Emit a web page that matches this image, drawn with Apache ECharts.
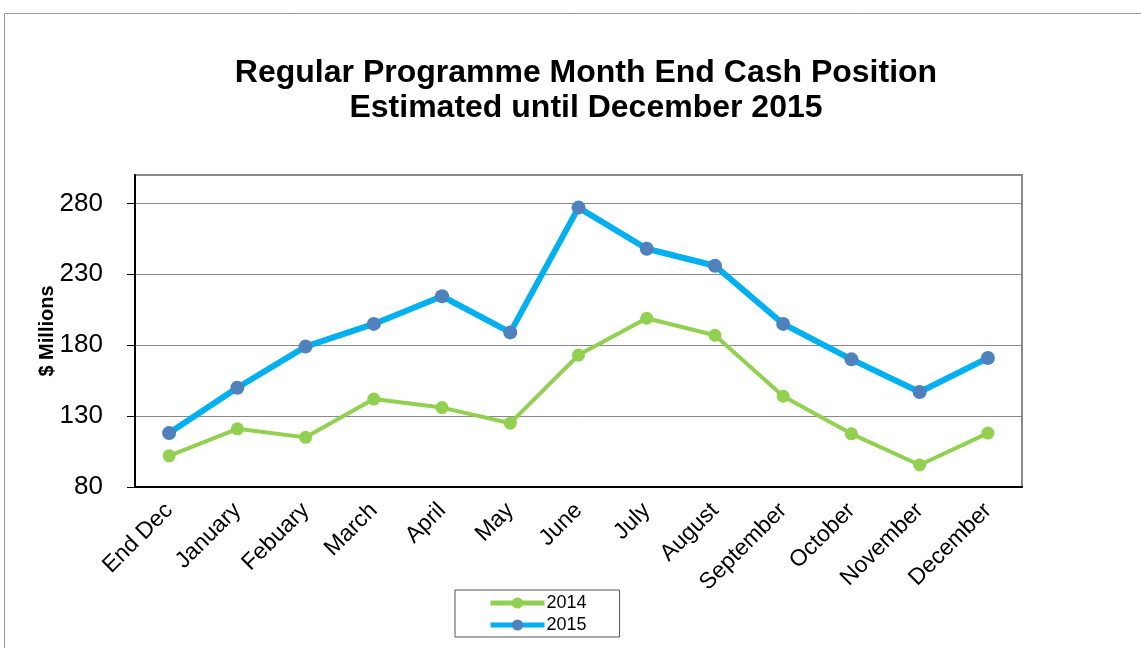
<!DOCTYPE html>
<html>
<head>
    <meta charset="utf-8"/>
    <title>Regular Programme Month End Cash Position</title>
    <style type="text/css">
        html, body { margin: 0; padding: 0; background: #fff; }
        #main { width: 1141px; height: 648px; }
    </style>
    <script type="text/javascript" src="https://cdn.jsdelivr.net/npm/echarts@6/dist/echarts.min.js"></script>
</head>
<body>
<div id="main"></div>
<script type="text/javascript">
    // 月份
    var months = ['End Dec', 'January', 'Febuary', 'March', 'April', 'May', 'June',
        'July', 'August', 'September', 'October', 'November', 'December'];
    // 两年的月末现金
    var cash2014 = [102, 121, 115, 142, 136, 125, 173, 199, 187, 144, 117.5, 95.5, 118];
    var cash2015 = [118, 150, 179, 195, 214.5, 189, 277, 248, 236, 195, 170, 147, 171];
    var yMin = 80, yMax = 300, yStep = 50;

    var myChart = echarts.init(document.getElementById('main'));

    var option = {
        backgroundColor: '#fff',
        animation: false,
        textStyle: { fontFamily: 'Liberation Sans, Arial, sans-serif' },
        title: {
            text: 'Regular Programme Month End Cash Position\nEstimated until December 2015',
            left: 581,
            textAlign: 'center',
            top: 51,
            textStyle: {
                fontSize: 32,
                fontWeight: 'bold',
                color: '#000',
                lineHeight: 35
            }
        },
        // 外框
        graphic: [{
            type: 'rect',
            shape: { x: 4.5, y: 13.5, width: 1150, height: 650 },
            style: { fill: 'none', stroke: '#999', lineWidth: 1 }
        }],
        legend: {
            orient: 'vertical',
            left: 455,
            top: 590,
            padding: [4, 33, 3, 33],
            itemGap: 4,
            itemWidth: 54,
            itemHeight: 14,
            borderColor: '#555',
            borderWidth: 1,
            lineStyle: { width: 5 },
            textStyle: { fontSize: 18, color: '#000', padding: [0, 0, 0, -3] },
            data: ['2014', '2015']
        },
        grid: {
            left: 135,
            right: 119,
            top: 175,
            bottom: 161,
            show: true,
            borderColor: '#888',
            borderWidth: 2
        },
        xAxis: {
            type: 'category',
            boundaryGap: true,
            data: months,
            axisLine: { lineStyle: { color: '#000', width: 2 } },
            axisTick: { length: 8, lineStyle: { color: '#000', width: 1 } },
            axisLabel: { rotate: 45, fontSize: 23, color: '#000', margin: 20, interval: 0 }
        },
        yAxis: {
            type: 'value',
            min: yMin,
            max: yMax,
            interval: yStep,
            name: '$ Millions',
            nameLocation: 'middle',
            nameGap: 78,
            nameMoveOverlap: false,
            nameTextStyle: { fontSize: 20, fontWeight: 'bold', color: '#000' },
            axisLine: { show: true, lineStyle: { color: '#000', width: 2 } },
            axisTick: { show: true, length: 8, lineStyle: { color: '#000' } },
            axisLabel: { fontSize: 26, color: '#000', margin: 32, showMaxLabel: false },
            splitLine: { lineStyle: { color: '#888', width: 1 } }
        },
        series: [{
            name: '2014',
            type: 'line',
            data: cash2014,
            symbol: 'circle',
            symbolSize: 13,
            itemStyle: { color: '#92d050' },
            lineStyle: { color: '#92d050', width: 4 }
        }, {
            name: '2015',
            type: 'line',
            data: cash2015,
            symbol: 'circle',
            symbolSize: 14,
            itemStyle: { color: '#4f81bd' },
            lineStyle: { color: '#00b0f0', width: 6 }
        }]
    };

    myChart.setOption(option);
</script>
</body>
</html>
